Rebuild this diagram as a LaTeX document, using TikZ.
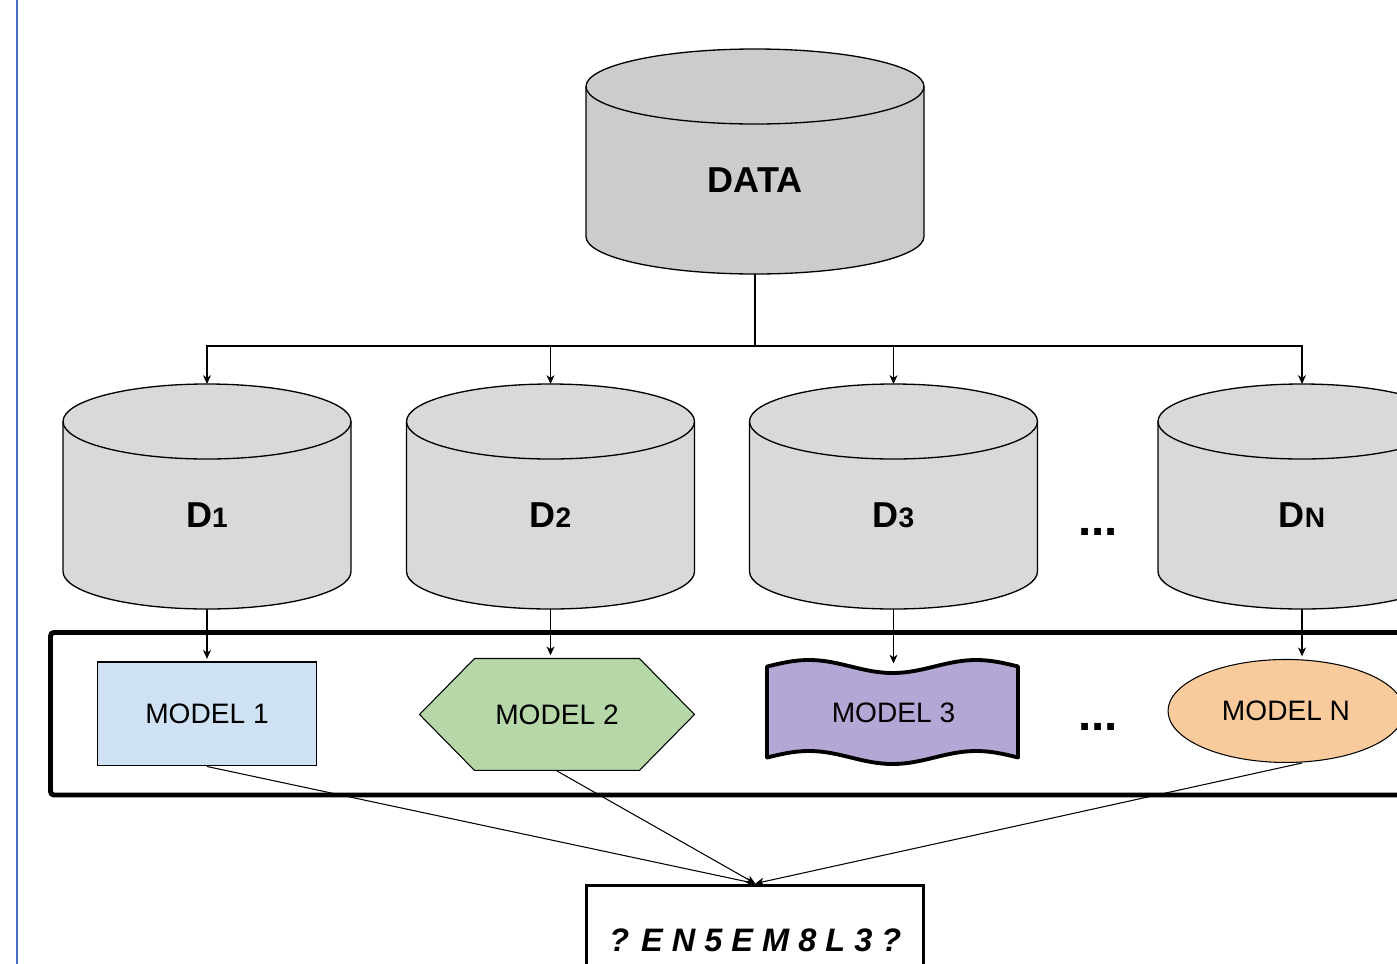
\documentclass[tikz,border=0pt]{standalone}
\usepackage{fontspec}
\setmainfont{Liberation Sans}
\usetikzlibrary{positioning,calc,shapes.geometric,shapes.symbols,arrows.meta}
\definecolor{datagray}{RGB}{204,204,204}
\definecolor{subgray}{RGB}{217,217,217}
\definecolor{mblue}{RGB}{207,226,243}
\definecolor{mgreen}{RGB}{182,215,168}
\definecolor{mpurple}{RGB}{180,167,214}
\definecolor{morange}{RGB}{249,203,156}
\definecolor{rulecol}{RGB}{74,110,200}
\newcommand{\DataDisk}[5]{
  \coordinate (#2-top) at (#3);
  \filldraw[disk,fill=#1] ($(#2-top)+(-#4,-37.5)$) -- ++(0,-150)
    arc[start angle=180,end angle=360,x radius=#4,y radius=37.5]
    -- ++(0,150) arc[start angle=0,end angle=180,x radius=#4,y radius=37.5]
    -- cycle;
  \draw[disk] ($(#2-top)+(-#4,-37.5)$)
    arc[start angle=180,end angle=360,x radius=#4,y radius=37.5];
  \node[disklabel,minimum width=2*#4*0.02cm,below=0.75cm of #2-top] (#2) {#5};
}
\newcommand{\SubIdx}[1]{{\fontsize{16}{16}\selectfont #1}}

\begin{document}
\begin{tikzpicture}[x=0.02cm,y=0.02cm,
  disk/.style={line width=0.75pt},
  disklabel/.style={inner sep=0pt,outer sep=0pt,minimum height=3.75cm,
    font=\bfseries\fontsize{20.5}{24}\selectfont},
  model/.style={draw,line width=0.6pt,inner sep=0pt,
    font=\fontsize{16}{19}\selectfont},
  arr/.style={-{Stealth[length=5pt,width=4.5pt,inset=1.5pt]},line width=0.6pt},
  gapdots/.style={inner sep=0pt,font=\bfseries\fontsize{27}{27}\selectfont}]
  \useasboundingbox (0,0) rectangle (1397,-964);
  \clip (0,0) rectangle (1397,-964);
  \draw[rulecol,line width=0.9pt] (17,0) -- (17,-964);

  \DataDisk{datagray}{data}{755,-49}{169}{DATA}
  \DataDisk{subgray}{d1}{207,-384}{144}{D\SubIdx{1}}
  \DataDisk{subgray}{d2}{550.5,-384}{144}{D\SubIdx{2}}
  \DataDisk{subgray}{d3}{893.5,-384}{144}{D\SubIdx{3}}
  \DataDisk{subgray}{dN}{1302,-384}{144}{D\SubIdx{N}}
  \node[gapdots] (dots1) at (1098,-532) {...};

  \draw[line width=2.8pt,rounded corners=2pt] (50.5,-632.5) rectangle (1440,-795);

  \node[model,fill=mblue,minimum width=4.39cm,minimum height=2.08cm,
    below=1.05cm of d1] (m1) {MODEL 1};
  \node[model,signal,signal to=west and east,signal pointer angle=91,
    fill=mgreen,minimum width=5.5cm,minimum height=2.24cm,
    below=0.98cm of d2,xshift=0.13cm] (m2) {MODEL 2};
  \filldraw[fill=mpurple,line width=2.2pt,line join=round]
    plot[domain=767:1018,samples=60,smooth] (\x,{-666.5+6.5*cos((\x-809)*2.152)})
    -- plot[domain=1018:767,samples=60,smooth] (\x,{-757.5+6.5*cos((\x-809)*2.152)})
    -- cycle;
  \node[inner sep=0pt,font=\fontsize{16}{19}\selectfont,minimum width=5cm,
    minimum height=1.96cm,below=1.09cm of d3] (m3) {MODEL 3};
  \node[model,ellipse,fill=morange,minimum width=4.72cm,minimum height=2.06cm,
    below=1.0cm of dN,xshift=-0.32cm] (mN) {MODEL N};
  \node[gapdots] (dots2) at (1098,-727) {...};

  \node[draw,line width=1.7pt,minimum width=6.74cm,minimum height=2.2cm,
    font=\bfseries\itshape\fontsize{18.5}{22}\selectfont] (ens) at (755.3,-940)
    {? E N 5 E M 8 L 3 ?};

  \coordinate (split) at (755,-346);
  \draw[line width=0.6pt] (data.south) -- (split);
  \foreach \d in {d1,d2,d3,dN}
    \draw[arr] (split) -| (\d-top);
  \draw[arr,shorten >=1.5pt] (d1.south) -- (m1.north);
  \draw[arr,shorten >=1.5pt] (d2.south) -- (d2.south |- m2.north);
  \draw[arr] (d3.south) -- (d3.south |- m3.north);
  \draw[arr,shorten >=1.5pt] (dN.south) -- (dN.south |- mN.north);
  \draw[arr] (m1.south) -- (ens.north);
  \draw[arr] (m2.south) -- (ens.north);
  \draw[arr] (dN.south |- mN.south) -- (ens.north);
\end{tikzpicture}
\end{document}
